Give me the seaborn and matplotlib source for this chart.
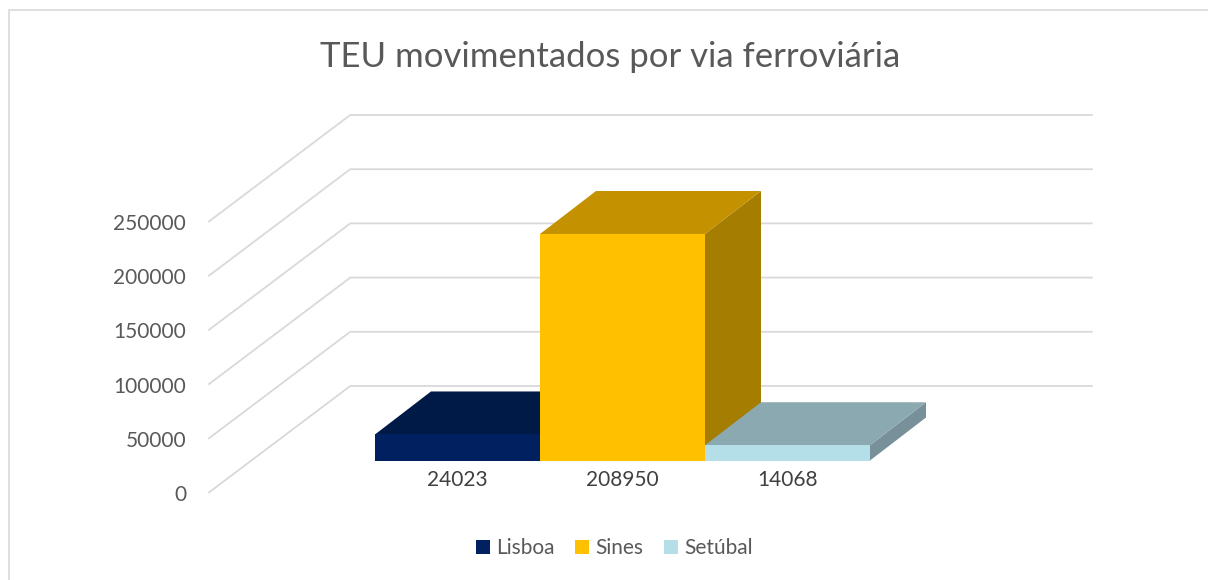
import numpy as np
import pandas as pd
import seaborn as sns
import matplotlib.pyplot as plt
from matplotlib.patches import Polygon, Patch, Rectangle

# data
ports = ['Lisboa', 'Sines', 'Setúbal']
teu = [24023, 208950, 14068]
yticks = [0, 50000, 100000, 150000, 200000, 250000]
title = 'TEU movimentados por via ferroviária'

front_colors = ['#002060', '#FFC000', '#B4DFE8']
top_colors = ['#001A48', '#C49100', '#8BA9B0']
side_colors = ['#00153C', '#A57D00', '#78909A']

sns.set_theme(style='white')
plt.rcParams['font.family'] = ['Lato', 'DejaVu Sans']

W, H = 1208, 580
fig = plt.figure(figsize=(W / 100, H / 100), dpi=100)
ax = fig.add_axes([0, 0, 1, 1])

df = pd.DataFrame({'port': ports, 'teu': teu})
sns.barplot(data=df, x='port', y='teu', hue='port', palette=front_colors,
            width=1, saturation=1, legend=False, ax=ax)
for p in ax.patches:
    p.set_zorder(3)
    p.set_edgecolor('none')

# pixel layout of the fake 3d box
bar_px = 165.0          # width of one bar in pixels
x0_px = 375.0           # left edge of first bar
y0_px = H - 460.5       # baseline of bar fronts (from bottom)
y_per_px = 50000 / 54.2
ax.set_xlim(-0.5 - x0_px / bar_px, -0.5 + (W - x0_px) / bar_px)
ax.set_ylim(-y0_px * y_per_px, (H - y0_px) * y_per_px)
ax.set_axis_off()


def off(px):
    return px[0] / bar_px, px[1] * y_per_px


dbar = off((56, 43))      # bar depth
dfront = off((-43, -32.5))  # front plane (axis labels)
dback = off((99, 74.5))   # back wall
left = -0.5 - 0.75
right = len(ports) - 0.5 + 0.75

grid_c = '#D9D9D9'
for v in yticks:
    xs = [left + dfront[0], left + dback[0], right + dback[0]]
    ys = [v + dfront[1], v + dback[1], v + dback[1]]
    ax.plot(xs, ys, color=grid_c, lw=1.3, zorder=1, solid_capstyle='butt')
    ax.text(left + dfront[0] - 22 / bar_px, v + dfront[1] - 8 * y_per_px,
            f'{v}', ha='right', va='baseline', fontsize=15, color='#595959')

for i, v in enumerate(teu):
    top = [(i - 0.5, v), (i + 0.5, v),
           (i + 0.5 + dbar[0], v + dbar[1]), (i - 0.5 + dbar[0], v + dbar[1])]
    side = [(i + 0.5, 0), (i + 0.5, v),
            (i + 0.5 + dbar[0], v + dbar[1]), (i + 0.5 + dbar[0], dbar[1])]
    z = 2 + i * 0.1
    ax.add_patch(Polygon(side, closed=True, fc=side_colors[i], ec='none', zorder=z))
    ax.add_patch(Polygon(top, closed=True, fc=top_colors[i], ec='none', zorder=z + 0.05))
    ax.text(i, -25 * y_per_px, f'{v}', ha='center', va='baseline',
            fontsize=15, color='#404040')

fig.text(610 / W, 1 - 67 / H, title, ha='center', va='baseline',
         fontsize=25, color='#595959')

handles = [Patch(facecolor=c, edgecolor='none', label=p) for p, c in zip(ports, front_colors)]
leg = fig.legend(handles=handles, loc='center', bbox_to_anchor=(614.5 / W, 32 / H),
                 ncol=3, frameon=False, fontsize=15, handlelength=0.67,
                 handleheight=0.67, handletextpad=0.3, columnspacing=1.0)
for t in leg.get_texts():
    t.set_color('#595959')

fig.patches.append(Rectangle((9 / W, -0.1), 1.2, (H - 10) / H + 0.1,
                             transform=fig.transFigure, fill=False,
                             ec=grid_c, lw=1.2))

fig.savefig('out.png', dpi=100)
